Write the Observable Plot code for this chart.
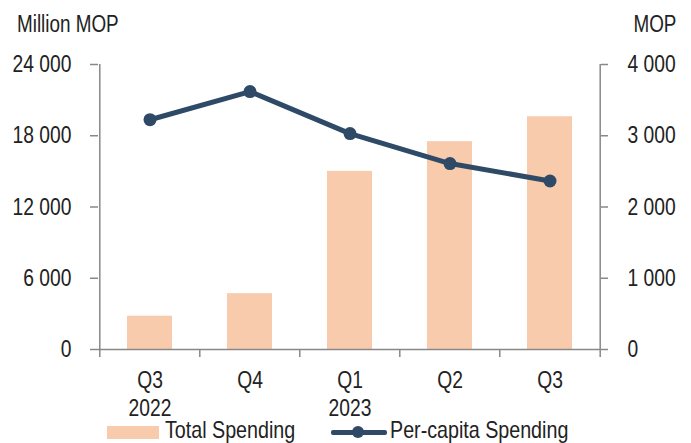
<!DOCTYPE html>
<html><head><meta charset="utf-8">
<script src="https://cdn.jsdelivr.net/npm/d3@7"></script>
<script src="https://cdn.jsdelivr.net/npm/@observablehq/plot@0.6"></script>
<style>
body{margin:0;background:#fff;}
#wrap{position:relative;width:691px;height:443px;overflow:hidden;font-family:"Liberation Sans Narrow","Arial Narrow","Liberation Sans",sans-serif;color:#222;}
#wrap svg{position:absolute;left:0;top:0;}
.lab{position:absolute;font-size:23px;line-height:23px;white-space:nowrap;transform:scaleX(0.82);}
.leg{font-size:24px;line-height:24px;}
</style></head><body><div id="wrap"></div>
<script>
const categories = ["2022 Q3","2022 Q4","2023 Q1","2023 Q2","2023 Q3"];
const tickLabels = ["Q3\n2022","Q4","Q1\n2023","Q2","Q3"];
const totalSpending = [2800, 4700, 15000, 17500, 19600];   // Million MOP (left axis)
const perCapita = [3225, 3620, 3030, 2610, 2365];          // MOP (right axis)
const leftTicks = [0, 6000, 12000, 18000, 24000];
const rightMax = 4000, leftMax = 24000;
const unitLeft = "Million MOP", unitRight = "MOP";
const seriesNames = ["Total Spending", "Per-capita Spending"];

const ratio = leftMax / rightMax;
const fmt = v => d3.format(",")(v).replace(/,/g, " ");
const labelOf = Object.fromEntries(categories.map((c, i) => [c, tickLabels[i]]));
const data = categories.map((c, i) => ({c, total: totalSpending[i], pc: perCapita[i]}));

const mL = 98, mR = 91, W = 691;
const step = (W - mL - mR) / categories.length;
const axisColor = "#888";
const lineColor = "#2E4A66";
const barColor = "#F8CBAD";
const narrow = 0.82;
const font = '"Liberation Sans Narrow","Arial Narrow","Liberation Sans",sans-serif';

const chart = Plot.plot({
  width: W, height: 443,
  marginLeft: mL, marginRight: mR, marginTop: 64, marginBottom: 94,
  style: {fontFamily: font, fontSize: "23.5px", color: "#222", background: "transparent"},
  x: {domain: categories, paddingInner: 0.55, paddingOuter: 0.275, axis: null},
  y: {domain: [0, leftMax], axis: null},
  marks: [
    Plot.barY(data, {x: "c", y: "total", fill: barColor}),
    Plot.ruleY([0], {stroke: axisColor, strokeWidth: 1.5}),
    Plot.ruleX([categories[0]], {dx: -step / 2, y1: 0, y2: leftMax, stroke: axisColor, strokeWidth: 1.5}),
    Plot.ruleX([categories[categories.length - 1]], {dx: step / 2, y1: 0, y2: leftMax, stroke: axisColor, strokeWidth: 1.5}),
    Plot.ruleX(categories, {dx: -step / 2, y1: 0, y2: 0, insetBottom: -8, stroke: axisColor, strokeWidth: 1.5}),
    Plot.ruleX([categories[categories.length - 1]], {dx: step / 2, y1: 0, y2: 0, insetBottom: -8, stroke: axisColor, strokeWidth: 1.5}),
    Plot.axisY({ticks: leftTicks, tickSize: 8, tickPadding: 19, tickFormat: fmt, stroke: axisColor, strokeWidth: 1.5, fill: "#222", label: null}),
    Plot.axisY({anchor: "right", ticks: leftTicks, tickSize: 7, tickPadding: 20, tickFormat: d => fmt(d / ratio), stroke: axisColor, strokeWidth: 1.5, fill: "#222", label: null}),
    Plot.axisX({tickSize: 0, tickPadding: 18, tickFormat: d => labelOf[d], lineHeight: 1.2, fill: "#222", label: null}),
    Plot.line(data, {x: "c", y: d => d.pc * ratio, stroke: lineColor, strokeWidth: 5}),
    Plot.dot(data, {x: "c", y: d => d.pc * ratio, r: 6.5, fill: lineColor})
  ]
});

// emulate a narrow (Arial Narrow-like) face: squeeze each text horizontally about its anchor
chart.querySelectorAll("text").forEach(t => {
  const ax = parseFloat(t.getAttribute("x") || 0) || 0;
  const T = t.getAttribute("transform") || "";
  t.setAttribute("transform", `${T} translate(${ax},0) scale(${narrow},1) translate(${-ax},0)`);
});

const wrap = document.getElementById("wrap");
wrap.appendChild(chart);

function addLabel(text, css, origin, cls) {
  const d = document.createElement("div");
  d.className = "lab" + (cls ? " " + cls : "");
  d.textContent = text;
  Object.assign(d.style, css);
  d.style.transformOrigin = origin || "left center";
  wrap.appendChild(d);
  return d;
}
addLabel(unitLeft, {left: "17px", top: "13px"});
addLabel(unitRight, {right: "15px", top: "13px"}, "right center");

// legend
const sw = document.createElement("div");
Object.assign(sw.style, {position: "absolute", left: "107px", top: "426px", width: "52px", height: "13px", background: barColor});
wrap.appendChild(sw);
addLabel(seriesNames[0], {left: "165px", top: "418px"}, null, "leg");
const ln = document.createElement("div");
Object.assign(ln.style, {position: "absolute", left: "331px", top: "430px", width: "56px", height: "5px", background: lineColor, borderRadius: "2px"});
wrap.appendChild(ln);
const dt = document.createElement("div");
Object.assign(dt.style, {position: "absolute", left: "352px", top: "426px", width: "12px", height: "12px", borderRadius: "50%", background: lineColor});
wrap.appendChild(dt);
addLabel(seriesNames[1], {left: "390px", top: "418px"}, null, "leg");
</script>
</body></html>
